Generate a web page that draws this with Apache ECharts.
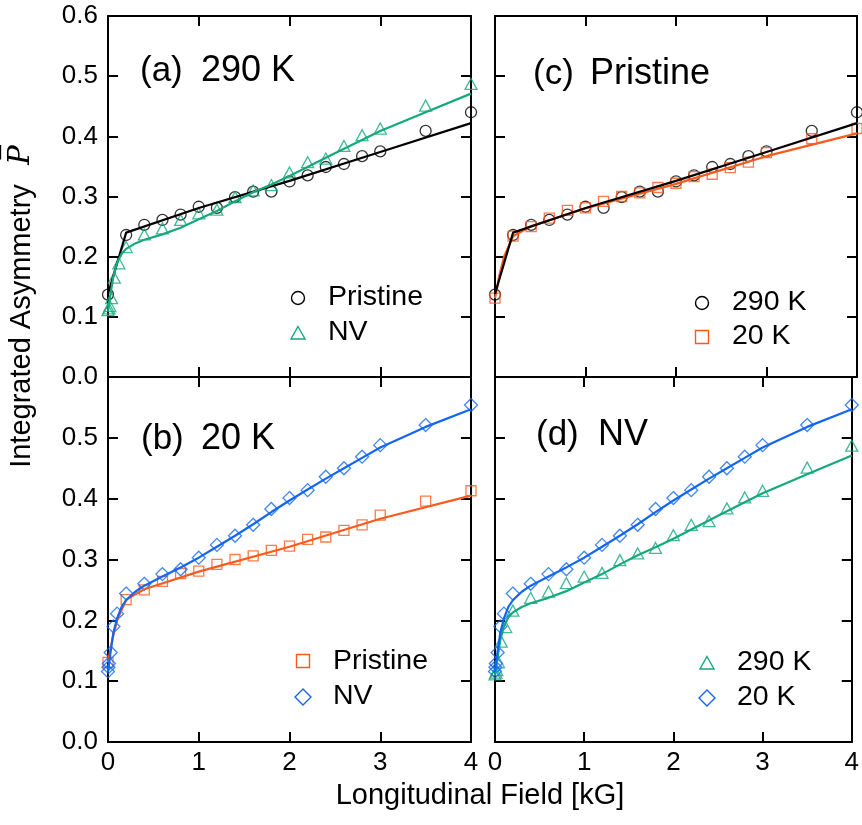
<!DOCTYPE html>
<html>
<head>
<meta charset="utf-8">
<script src="https://cdn.jsdelivr.net/npm/echarts@6/dist/echarts.min.js"></script>
<style>html,body{margin:0;padding:0;background:#fff;}#c{width:862px;height:825px;}</style>
</head>
<body>
<div id="c"></div>
<script>
// ---- data ----
const fieldP = [0, 0.2, 0.4, 0.6, 0.8, 1.0, 1.2, 1.4, 1.6, 1.8, 2.0, 2.2, 2.4, 2.6, 2.8, 3.0, 3.5, 4.0];
const pristine290 = [0.137, 0.236, 0.253, 0.261, 0.270, 0.283, 0.281, 0.299, 0.308, 0.308, 0.325, 0.335, 0.349, 0.354, 0.367, 0.375, 0.409, 0.440];
const pristine20 = [0.131, 0.234, 0.250, 0.264, 0.277, 0.281, 0.292, 0.300, 0.306, 0.315, 0.322, 0.333, 0.337, 0.348, 0.357, 0.373, 0.396, 0.413];
const fieldNV290 = [0, 0.01, 0.02, 0.04, 0.07, 0.12, 0.2, 0.4, 0.6, 0.8, 1.0, 1.2, 1.4, 1.6, 1.8, 2.0, 2.2, 2.4, 2.6, 2.8, 3.0, 3.5, 4.0];
const nv290 = [0.111, 0.114, 0.118, 0.131, 0.165, 0.189, 0.216, 0.237, 0.247, 0.261, 0.272, 0.278, 0.299, 0.310, 0.319, 0.340, 0.357, 0.363, 0.384, 0.402, 0.413, 0.451, 0.487];
const fieldNV20 = [0, 0.005, 0.01, 0.03, 0.06, 0.1, 0.2, 0.4, 0.6, 0.8, 1.0, 1.2, 1.4, 1.6, 1.8, 2.0, 2.2, 2.4, 2.6, 2.8, 3.0, 3.5, 4.0];
const nv20 = [0.116, 0.123, 0.129, 0.147, 0.190, 0.211, 0.244, 0.260, 0.276, 0.284, 0.303, 0.324, 0.339, 0.357, 0.383, 0.401, 0.414, 0.436, 0.450, 0.469, 0.488, 0.521, 0.554];

// fit curves
const fitP290X = [0, 0.2, 1.0, 2.0, 3.0, 4.0];
const fitP290Y = [0.138, 0.240, 0.281, 0.326, 0.374, 0.422];
const fitP20X = [0, 0.05, 0.1, 0.2, 0.4, 1.0, 2.0, 3.0, 4.0];
const fitP20Y = [0.131, 0.170, 0.200, 0.234, 0.251, 0.280, 0.321, 0.367, 0.405];
const fitNV290X = [0, 0.03, 0.06, 0.1, 0.15, 0.2, 0.3, 0.4, 0.6, 0.8, 1.0, 1.2, 1.4, 1.6, 1.8, 2.0, 2.5, 3.0, 3.5, 4.0];
const fitNV290Y = [0.110, 0.140, 0.168, 0.190, 0.205, 0.213, 0.222, 0.228, 0.237, 0.248, 0.262, 0.276, 0.292, 0.307, 0.320, 0.334, 0.372, 0.409, 0.440, 0.471];
const fitNV20X = [0, 0.03, 0.06, 0.1, 0.15, 0.2, 0.3, 0.4, 0.6, 0.8, 1.0, 1.2, 1.4, 1.6, 1.8, 2.0, 2.2, 2.4, 2.6, 2.8, 3.0, 3.5, 4.0];
const fitNV20Y = [0.115, 0.150, 0.180, 0.203, 0.222, 0.233, 0.247, 0.257, 0.272, 0.287, 0.303, 0.321, 0.339, 0.358, 0.378, 0.397, 0.415, 0.433, 0.450, 0.467, 0.484, 0.518, 0.547];

const xTickLabels = ['0', '1', '2', '3', '4'];
const yTickLabelsTop = ['0.0', '0.1', '0.2', '0.3', '0.4', '0.5', '0.6'];
const yTickLabelsBottom = ['0.0', '0.1', '0.2', '0.3', '0.4', '0.5', ''];

const panelTags = ['(a)', '(c)', '(b)', '(d)'];
const panelNames = ['290 K', 'Pristine', '20 K', 'NV'];

// ---- styles ----
const FONT = 'Liberation Sans, Arial, sans-serif';
const C_BLACK = '#000000', C_GREEN = '#14a97c', C_ORANGE = '#fb5a1c', C_BLUE = '#1266f2';

const zip = (xs, ys) => xs.map((x, i) => [x, ys[i]]);

const grids = [
  {left: 108, top: 16, width: 363, height: 361},
  {left: 495, top: 16, width: 362, height: 361},
  {left: 108, top: 377, width: 363, height: 365},
  {left: 495, top: 377, width: 362, height: 365}
];

const axisLine = {show: true, onZero: false, lineStyle: {color: '#000', width: 2}};
const axisTick = {show: true, inside: true, length: 10, lineStyle: {color: '#000', width: 2}};

const xAxis = [], yAxis = [];
grids.forEach((g, i) => {
  const bottomRow = i >= 2;
  const leftCol = (i % 2) === 0;
  xAxis.push({type: 'value', gridIndex: i, position: 'bottom', min: 0, max: 4, interval: 1,
    axisLine, axisTick, splitLine: {show: false},
    axisLabel: {show: bottomRow, margin: 8, color: '#000', fontSize: 26, fontFamily: FONT,
      formatter: v => xTickLabels[Math.round(v)]}});
  xAxis.push({type: 'value', gridIndex: i, position: 'top', min: 0, max: 4, interval: 1,
    axisLine, axisTick, splitLine: {show: false}, axisLabel: {show: false}});
  const labs = bottomRow ? yTickLabelsBottom : yTickLabelsTop;
  yAxis.push({type: 'value', gridIndex: i, position: 'left', min: 0, max: 0.6, interval: 0.1,
    axisLine, axisTick, splitLine: {show: false},
    axisLabel: {show: leftCol, margin: 10, color: '#000', fontSize: 26, fontFamily: FONT,
      formatter: v => labs[Math.round(v * 10)]}});
  yAxis.push({type: 'value', gridIndex: i, position: 'right', min: 0, max: 0.6, interval: 0.1,
    axisLine, axisTick, splitLine: {show: false}, axisLabel: {show: false}});
});

function fit(i, xs, ys, color) {
  return {type: 'line', xAxisIndex: 2 * i, yAxisIndex: 2 * i, data: zip(xs, ys),
    showSymbol: false, smooth: false, lineStyle: {color, width: 2.2}, z: 3, silent: true};
}
const SYM = {
  circle: {symbol: 'circle', symbolSize: 11},
  triangle: {symbol: 'triangle', symbolSize: [12, 11]},
  square: {symbol: 'rect', symbolSize: 10},
  diamond: {symbol: 'diamond', symbolSize: 13}
};
function pts(i, xs, ys, color, sym) {
  return Object.assign({type: 'scatter', xAxisIndex: 2 * i, yAxisIndex: 2 * i, data: zip(xs, ys),
    itemStyle: {color: 'rgba(0,0,0,0)', borderColor: color, borderWidth: 1.3}, z: 2, silent: true}, SYM[sym]);
}

const series = [
  // (a) 290 K
  pts(0, fieldP, pristine290, C_BLACK, 'circle'),
  pts(0, fieldNV290, nv290, C_GREEN, 'triangle'),
  fit(0, fitP290X, fitP290Y, C_BLACK),
  fit(0, fitNV290X, fitNV290Y, C_GREEN),
  // (c) Pristine
  pts(1, fieldP, pristine290, C_BLACK, 'circle'),
  pts(1, fieldP, pristine20, C_ORANGE, 'square'),
  fit(1, fitP20X, fitP20Y, C_ORANGE),
  fit(1, fitP290X, fitP290Y, C_BLACK),
  // (b) 20 K
  pts(2, fieldP, pristine20, C_ORANGE, 'square'),
  pts(2, fieldNV20, nv20, C_BLUE, 'diamond'),
  fit(2, fitP20X, fitP20Y, C_ORANGE),
  fit(2, fitNV20X, fitNV20Y, C_BLUE),
  // (d) NV
  pts(3, fieldNV290, nv290, C_GREEN, 'triangle'),
  pts(3, fieldNV20, nv20, C_BLUE, 'diamond'),
  fit(3, fitNV290X, fitNV290Y, C_GREEN),
  fit(3, fitNV20X, fitNV20Y, C_BLUE)
];

// ---- annotations / legends ----
function txt(x, y, text, size, extra) {
  return {type: 'text', x, y, z: 10, style: Object.assign({text, fontSize: size, fontFamily: FONT, fill: '#000',
    align: 'left', verticalAlign: 'middle'}, extra || {})};
}
function legendSym(kind, cx, cy, color) {
  const style = {fill: 'none', stroke: color, lineWidth: 1.4};
  if (kind === 'circle') return {type: 'circle', z: 10, shape: {cx, cy, r: 6.5}, style};
  if (kind === 'square') return {type: 'rect', z: 10, shape: {x: cx - 6.5, y: cy - 6.5, width: 13, height: 13}, style};
  if (kind === 'triangle') return {type: 'polygon', z: 10, shape: {points: [[cx, cy - 6.5], [cx + 7, cy + 6], [cx - 7, cy + 6]]}, style};
  return {type: 'polygon', z: 10, shape: {points: [[cx, cy - 8], [cx + 8, cy], [cx, cy + 8], [cx - 8, cy]]}, style};
}

const graphic = [
  txt(140, 71, panelTags[0], 35), txt(201, 71, panelNames[0], 36),
  txt(533, 74, panelTags[1], 35), txt(590, 74, panelNames[1], 36),
  txt(141, 439, panelTags[2], 35), txt(201, 439, panelNames[2], 36),
  txt(536, 435, panelTags[3], 35), txt(598, 435, panelNames[3], 36),
  // legend (a)
  legendSym('circle', 298, 298, C_BLACK), txt(328, 297, 'Pristine', 28.5),
  legendSym('triangle', 298, 333, C_GREEN), txt(328, 332, 'NV', 28.5),
  // legend (c)
  legendSym('circle', 702, 303, C_BLACK), txt(732, 302, '290 K', 28.5),
  legendSym('square', 702, 337, C_ORANGE), txt(732, 336, '20 K', 28.5),
  // legend (b)
  legendSym('square', 303, 661, C_ORANGE), txt(333, 661, 'Pristine', 28.5),
  legendSym('diamond', 303, 697, C_BLUE), txt(333, 696, 'NV', 28.5),
  // legend (d)
  legendSym('triangle', 707, 663, C_GREEN), txt(737, 662, '290 K', 28.5),
  legendSym('diamond', 707, 698, C_BLUE), txt(737, 697, '20 K', 28.5),
  // axis titles
  txt(480, 796, 'Longitudinal Field [kG]', 29, {align: 'center'}),
  {type: 'text', x: 22, y: 326, rotation: Math.PI / 2, z: 10,
    style: {text: 'Integrated Asymmetry', fontSize: 29, fontFamily: FONT, fill: '#000', align: 'center', verticalAlign: 'middle'}},
  {type: 'text', x: 21, y: 155, rotation: Math.PI / 2, z: 10,
    style: {text: 'P\u0305', fontSize: 29, fontStyle: 'italic', fontFamily: 'DejaVu Serif, Liberation Serif, serif', fill: '#000', align: 'center', verticalAlign: 'middle'}}
];

const chart = echarts.init(document.getElementById('c'), null, {renderer: 'canvas'});
chart.setOption({
  animation: false,
  backgroundColor: '#fff',
  grid: grids,
  xAxis, yAxis, series, graphic
});
</script>
</body>
</html>
